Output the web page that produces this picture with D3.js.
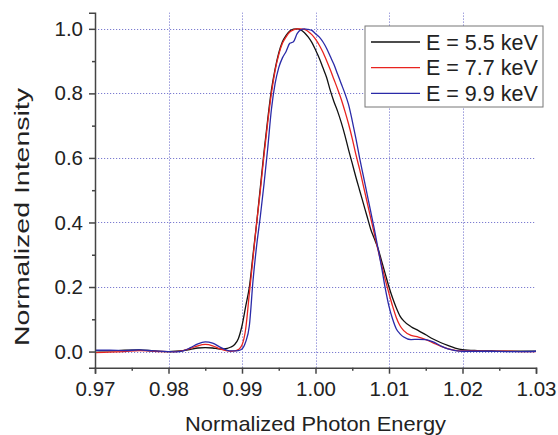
<!DOCTYPE html>
<html>
<head>
<meta charset="utf-8">
<script src="https://cdn.jsdelivr.net/npm/d3@7"></script>
<style>
  body { margin: 0; background: #fff; }
  svg text { font-family: "Liberation Sans", Arial, sans-serif; fill: #222; }
</style>
</head>
<body>
<div id="chart"></div>
<script>
// normalized photon energy (shared x grid)
const energy = [
  0.970, 0.972, 0.974, 0.976, 0.978, 0.980, 0.981, 0.982, 0.983, 0.984,
  0.985, 0.986, 0.987, 0.988, 0.9885, 0.989, 0.9895, 0.990, 0.9905, 0.991,
  0.9915, 0.992, 0.9925, 0.993, 0.9935, 0.994, 0.9945, 0.995, 0.9955, 0.996,
  0.9965, 0.997, 0.9975, 0.998, 0.9985, 0.999, 0.9995, 1.000, 1.0005, 1.001,
  1.0015, 1.002, 1.0025, 1.003, 1.0035, 1.004, 1.0045, 1.005, 1.0055, 1.006,
  1.0065, 1.007, 1.0075, 1.008, 1.0085, 1.009, 1.0095, 1.010, 1.0105, 1.011,
  1.0115, 1.012, 1.013, 1.014, 1.015, 1.016, 1.017, 1.018, 1.019, 1.020,
  1.022, 1.024, 1.026, 1.028, 1.030
];

const intensity55 = [
  0.003, 0.002, 0.004, 0.005, 0.002, 0.000, 0.001, 0.003, 0.007, 0.011,
  0.012, 0.011, 0.008, 0.010, 0.014, 0.022, 0.040, 0.080, 0.140, 0.200,
  0.300, 0.400, 0.510, 0.620, 0.720, 0.810, 0.875, 0.925, 0.960, 0.980,
  0.993, 0.999, 1.000, 0.997, 0.988, 0.975, 0.958, 0.935, 0.910, 0.880,
  0.850, 0.810, 0.775, 0.745, 0.710, 0.670, 0.625, 0.583, 0.540, 0.500,
  0.460, 0.420, 0.380, 0.350, 0.320, 0.280, 0.240, 0.200, 0.165, 0.135,
  0.110, 0.095, 0.077, 0.065, 0.052, 0.039, 0.028, 0.019, 0.011, 0.006,
  0.003, 0.002, 0.001, 0.001, 0.001
];

const intensity77 = [
  -0.003, -0.002, 0.000, 0.003, 0.001, 0.000, 0.000, 0.003, 0.010, 0.018,
  0.022, 0.018, 0.008, 0.002, 0.001, 0.002, 0.006, 0.020, 0.070, 0.180,
  0.290, 0.400, 0.500, 0.610, 0.710, 0.800, 0.870, 0.920, 0.955, 0.975,
  0.990, 0.997, 1.000, 1.000, 0.998, 0.992, 0.982, 0.968, 0.950, 0.928,
  0.902, 0.874, 0.844, 0.814, 0.782, 0.745, 0.705, 0.660, 0.610, 0.565,
  0.515, 0.465, 0.415, 0.365, 0.315, 0.268, 0.222, 0.180, 0.140, 0.105,
  0.080, 0.065, 0.050, 0.045, 0.037, 0.027, 0.017, 0.009, 0.004, 0.002,
  0.002, 0.001, 0.001, 0.000, 0.000
];

const intensity99 = [
  0.004, 0.004, 0.003, 0.005, 0.002, 0.000, -0.001, 0.002, 0.012, 0.024,
  0.030, 0.026, 0.014, 0.004, 0.002, 0.002, 0.003, 0.008, 0.030, 0.080,
  0.220, 0.330, 0.420, 0.520, 0.630, 0.750, 0.830, 0.880, 0.910, 0.930,
  0.955, 0.960, 0.985, 0.997, 1.000, 0.998, 0.995, 0.985, 0.975, 0.960,
  0.940, 0.915, 0.890, 0.860, 0.830, 0.800, 0.765, 0.715, 0.660, 0.600,
  0.545, 0.490, 0.435, 0.380, 0.320, 0.260, 0.195, 0.140, 0.100, 0.070,
  0.055, 0.045, 0.037, 0.038, 0.037, 0.030, 0.018, 0.008, 0.003, 0.001,
  0.001, 0.001, 0.000, 0.000, 0.001
];

const seriesNames = ["E = 5.5 keV", "E = 7.7 keV", "E = 9.9 keV"];
const seriesColors = ["#111111", "#e8231f", "#2a2aa8"];
const xTicks = [0.97, 0.98, 0.99, 1.00, 1.01, 1.02, 1.03];
const yTicks = [0.0, 0.2, 0.4, 0.6, 0.8, 1.0];

const width = 558;
const height = 435;
const margin = { left: 95, right: 22, top: 12.7, bottom: 67.3 };

const svg = d3.select("#chart").append("svg")
  .attr("width", width)
  .attr("height", height);

const x = d3.scaleLinear().domain([0.97, 1.03]).range([margin.left, width - margin.right]);
const y = d3.scaleLinear().domain([-0.05, 1.05]).range([height - margin.bottom, margin.top]);

// grid
const grid = svg.append("g").attr("stroke", "#7c7cd0").attr("stroke-width", 1).attr("stroke-dasharray", "1.2,1.8");
grid.selectAll(".hgrid").data(yTicks).join("line")
  .attr("x1", x(0.97)).attr("x2", x(1.03))
  .attr("y1", d => Math.round(y(d)) + 0.5).attr("y2", d => Math.round(y(d)) + 0.5);
grid.selectAll(".vgrid").data(xTicks.slice(1, -1)).join("line")
  .attr("x1", d => Math.round(x(d)) + 0.5).attr("x2", d => Math.round(x(d)) + 0.5)
  .attr("y1", y(-0.05)).attr("y2", y(1.05));

// curves
const allSeries = [intensity55, intensity77, intensity99];
const line = d3.line()
  .x((d, i) => x(energy[i]))
  .y(d => y(d))
  .curve(d3.curveMonotoneX);

svg.append("g").selectAll("path").data(allSeries).join("path")
  .attr("d", d => line(d))
  .attr("fill", "none")
  .attr("stroke", (d, i) => seriesColors[i])
  .attr("stroke-width", 1.3);

// axes
const xAxis = svg.append("g")
  .attr("transform", `translate(0,${y(-0.05)})`)
  .call(d3.axisBottom(x).tickValues(xTicks).tickFormat(d3.format(".2f")).tickSize(6).tickPadding(8));
svg.append("g")
  .attr("transform", `translate(0,${y(-0.05)})`)
  .call(d3.axisBottom(x).tickValues(d3.range(0.975, 1.03, 0.01)).tickFormat("").tickSize(3))
  .select(".domain").remove();

const yAxis = svg.append("g")
  .attr("transform", `translate(${x(0.97)},0)`)
  .call(d3.axisLeft(y).tickValues(yTicks).tickFormat(d3.format(".1f")).tickSize(6).tickPadding(6));
svg.append("g")
  .attr("transform", `translate(${x(0.97)},0)`)
  .call(d3.axisLeft(y).tickValues([0.1, 0.3, 0.5, 0.7, 0.9]).tickFormat("").tickSize(3))
  .select(".domain").remove();

svg.selectAll(".domain, .tick line").attr("stroke", "#444").attr("stroke-width", 1.5);
xAxis.selectAll(".tick text").attr("font-size", 20.5).attr("fill", "#222");
yAxis.selectAll(".tick text").attr("font-size", 20.5).attr("fill", "#222");
svg.selectAll(".tick text").style("font-family", "'Liberation Sans', Arial, sans-serif");

// axis titles
svg.append("text")
  .attr("x", (x(0.97) + x(1.03)) / 2)
  .attr("y", 431)
  .attr("text-anchor", "middle")
  .attr("font-size", 21)
  .attr("textLength", 261)
  .attr("lengthAdjust", "spacingAndGlyphs")
  .text("Normalized Photon Energy");

svg.append("text")
  .attr("transform", "translate(29,217) rotate(-90)")
  .attr("text-anchor", "middle")
  .attr("font-size", 21)
  .attr("textLength", 258)
  .attr("lengthAdjust", "spacingAndGlyphs")
  .text("Normalized Intensity");

// legend
const legend = svg.append("g").attr("transform", "translate(365,26)");
legend.append("rect")
  .attr("width", 178).attr("height", 81)
  .attr("fill", "#fff").attr("stroke", "#777").attr("stroke-width", 1);
const rows = legend.selectAll(".row").data(seriesNames).join("g")
  .attr("transform", (d, i) => `translate(0,${16 + i * 25.7})`);
rows.append("line")
  .attr("x1", 6).attr("x2", 55)
  .attr("stroke", (d, i) => seriesColors[i]).attr("stroke-width", 1.3);
rows.append("text")
  .attr("x", 61).attr("dy", "0.36em")
  .attr("font-size", 21.5)
  .text(d => d);
</script>
</body>
</html>
